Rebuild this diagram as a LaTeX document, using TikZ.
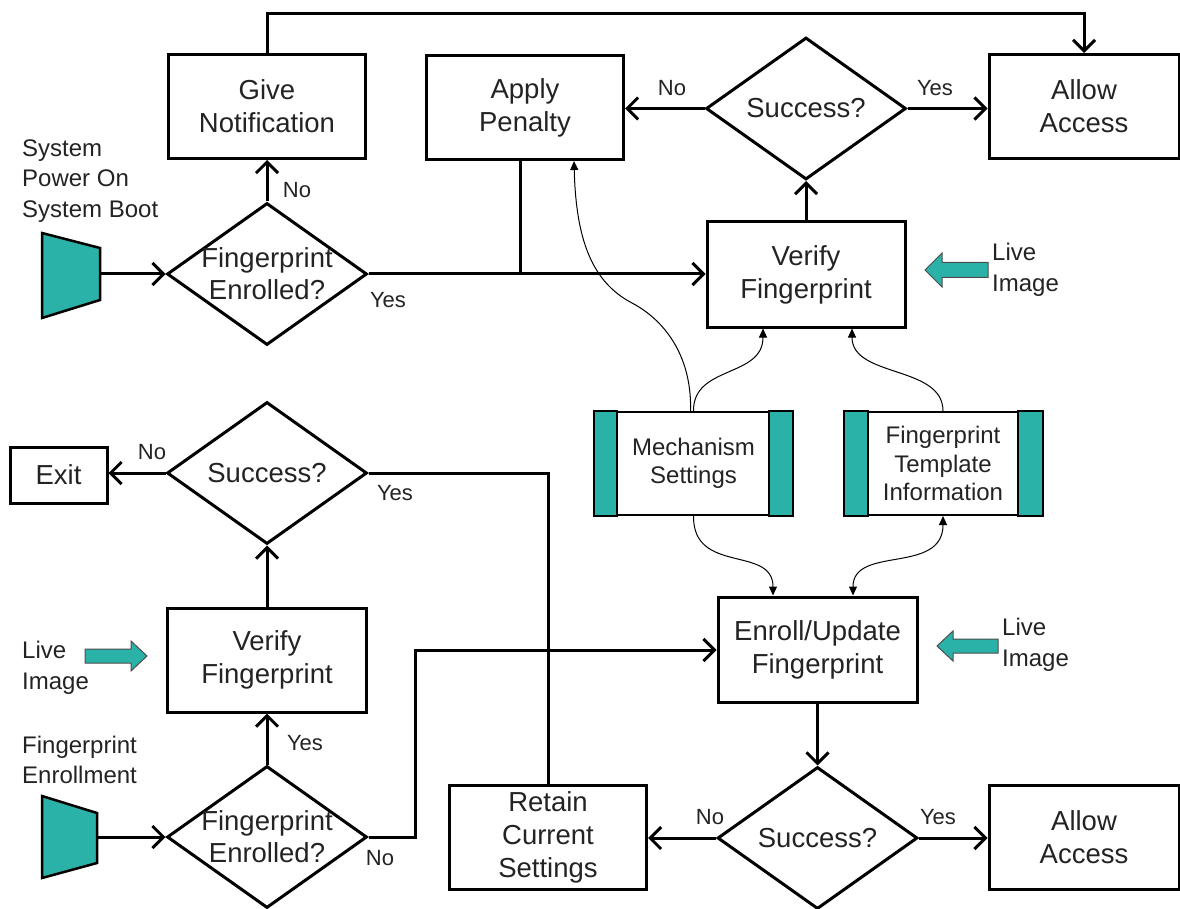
\documentclass[tikz,border=0pt]{standalone}
\usepackage{fontspec}
\setmainfont{Liberation Sans}
\usetikzlibrary{arrows.meta,calc,shapes.geometric}
\definecolor{tealf}{RGB}{43,178,168}
\definecolor{txt}{RGB}{35,35,35}
\begin{document}
\begin{tikzpicture}[x=1pt,y=-1pt,
  box/.style={draw,line width=3pt,minimum width=197pt,minimum height=104pt,inner sep=0pt,align=center,font=\fontsize{27.5}{33}\selectfont,text=txt},
  store/.style={draw,line width=2pt,minimum width=197pt,minimum height=103pt,inner sep=0pt,align=center,font=\fontsize{24}{28.5}\selectfont,text=txt},
  bar/.style={fill=tealf,draw=black,line width=2pt},
  dia/.style={draw,diamond,line width=3pt,minimum width=200pt,minimum height=142pt,inner sep=0pt},
  dtext/.style={font=\fontsize{27.5}{32}\selectfont,text=txt,align=center},
  side/.style={font=\fontsize{24}{30.5}\selectfont,text=txt,align=left,anchor=west,inner sep=0pt},
  yn/.style={font=\fontsize{22}{26}\selectfont,text=txt,inner sep=0pt},
  arr/.style={line width=3pt,-{Straight Barb[length=11pt,width=22pt]}},
  ln/.style={line width=3pt},
  carr/.style={line width=1pt,-{Triangle[length=9pt,width=8pt]}},
  trap/.style={fill=tealf,draw=black,line width=2.5pt},
  barrow/.style={fill=tealf,draw=black!70,line width=1pt},
]
\useasboundingbox (0,0) rectangle (1180,909);

% ---------- top section ----------
\node[box] (give) at (267,106.5) {Give\\Notification};
\node[box] (penalty) at (525,107.5) {Apply\\Penalty};
\node[box,minimum width=190pt] (allow1) at (1084,106.5) {Allow\\Access};
\node[dia,label={[dtext]center:Success?}] (succ1) at (806,108.5) {};
\node[dia,label={[dtext]center:Fingerprint\\Enrolled?}] (enr1) at (267,274) {};
\node[box,minimum width=198pt,minimum height=105pt] (verify1) at (806,274.5) {Verify\\Fingerprint};

\filldraw[trap] (42,233) -- (100,248) -- (100,300) -- (42,318) -- cycle;
\coordinate (t1) at (100,274);
\node[side] (lab1) at (22,181) {System\\Power On\\System Boot};

\draw[arr] (t1) -- (enr1.west);
\draw[arr] (enr1.north) -- (give.south);
\node[yn] (no1) at (297,190) {No};
\draw[arr] (enr1.east) -- (enr1.east -| verify1.west);
\node[yn] (yes1) at (388,300) {Yes};
\coordinate (j1) at (520,274);
\draw[ln] (j1 |- penalty.south) -- (j1);
\draw[arr] (verify1.north) -- (succ1.south);
\draw[arr] (succ1.west) -- (succ1.west -| penalty.east);
\node[yn] (no2) at (672,88) {No};
\draw[arr] (succ1.east) -- (succ1.east -| allow1.west);
\node[yn] (yes2) at (935,88) {Yes};
\coordinate (top1) at (267,14);
\draw[arr] (give.north) -- (top1) -- (top1 -| allow1.north) -- (allow1.north);

\filldraw[barrow] (925,270) -- (942,253) -- (942,262.5) -- (988,262.5) -- (988,277.5) -- (942,277.5) -- (942,287) -- cycle;
\node[side] (live1) at (992,270) {Live\\Image};

% ---------- stores ----------
\node[store] (mech) at (693.5,463.5) {Mechanism\\Settings};
\filldraw[bar] (mech.south west) rectangle ($(mech.north west)+(23,0)$);
\filldraw[bar] (mech.south east) rectangle ($(mech.north east)+(-24,0)$);
\node[store] (templ) at (943,463.5) {Fingerprint\\Template\\Information};
\filldraw[bar] (templ.south west) rectangle ($(templ.north west)+(24,0)$);
\filldraw[bar] (templ.south east) rectangle ($(templ.north east)+(-25,0)$);

\draw[carr] ([xshift=-3pt]mech.north) .. controls (692,360) and (668,322) .. (632,303) .. controls (592,282) and (576,240) .. ([xshift=49pt]penalty.south);
\draw[carr] (mech.north) .. controls (693,365) and (763,378) .. ([xshift=-43pt]verify1.south);
\draw[carr] (templ.north) .. controls (943,365) and (852,378) .. ([xshift=46pt]verify1.south);

% ---------- enroll ----------
\node[box,minimum width=199pt,minimum height=105pt] (enroll) at (817.5,649.5) {Enroll/Update\\Fingerprint};
\draw[carr] (mech.south) .. controls (693,575) and (773,545) .. ([xshift=-44.5pt]enroll.north);
\draw[carr,{Triangle[length=9pt,width=8pt]}-{Triangle[length=9pt,width=8pt]}] (templ.south) .. controls (943,575) and (853,545) .. ([xshift=35.5pt]enroll.north);

\filldraw[barrow] (937,646) -- (953,631) -- (953,639) -- (998,639) -- (998,653) -- (953,653) -- (953,661) -- cycle;
\node[side] (live3) at (1002,645) {Live\\Image};

\node[dia,label={[dtext]center:Success?}] (succ3) at (817.5,838) {};
\draw[arr] (enroll.south) -- (succ3.north);
\node[box] (retain) at (548,837.5) {Retain\\Current\\Settings};
\node[box,minimum width=190pt] (allow2) at (1084,837.5) {Allow\\Access};
\draw[arr] (succ3.west) -- (succ3.west -| retain.east);
\node[yn] (no3) at (710,817) {No};
\draw[arr] (succ3.east) -- (succ3.east -| allow2.west);
\node[yn] (yes3) at (938,817) {Yes};

% ---------- left lower section ----------
\node[box,minimum width=97pt,minimum height=56pt] (exit) at (58.5,475) {Exit};
\node[dia,label={[dtext]center:Success?}] (succ2) at (267,473) {};
\node[box,minimum width=199pt] (verify2) at (267,660) {Verify\\Fingerprint};
\node[dia,label={[dtext]center:Fingerprint\\Enrolled?}] (enr2) at (267,837) {};

\draw[arr] (succ2.west) -- (succ2.west -| exit.east);
\node[yn] (no4) at (152,452) {No};
\draw[ln] (succ2.east) -- (succ2.east -| retain.north) -- (retain.north);
\node[yn] (yes4) at (395,493) {Yes};
\draw[arr] (verify2.north) -- (succ2.south);
\draw[arr] (enr2.north) -- (verify2.south);
\node[yn] (yes5) at (305,743) {Yes};
\coordinate (k1) at (415,837);
\coordinate (k2) at (415,650);
\draw[arr] (enr2.east) -- (k1) -- (k2) -- (k2 -| enroll.west);
\node[yn] (no5) at (380,858) {No};

\filldraw[trap] (42,796) -- (97,813) -- (97,863) -- (42,878) -- cycle;
\coordinate (t2) at (97,837);
\draw[arr] (t2) -- (enr2.west);
\node[side] (lab2) at (22,760) {Fingerprint\\Enrollment};

\filldraw[barrow] (147,656) -- (131,641) -- (131,649) -- (85,649) -- (85,663) -- (131,663) -- (131,671) -- cycle;
\node[side] (live2) at (22,668) {Live\\Image};
\end{tikzpicture}
\end{document}
